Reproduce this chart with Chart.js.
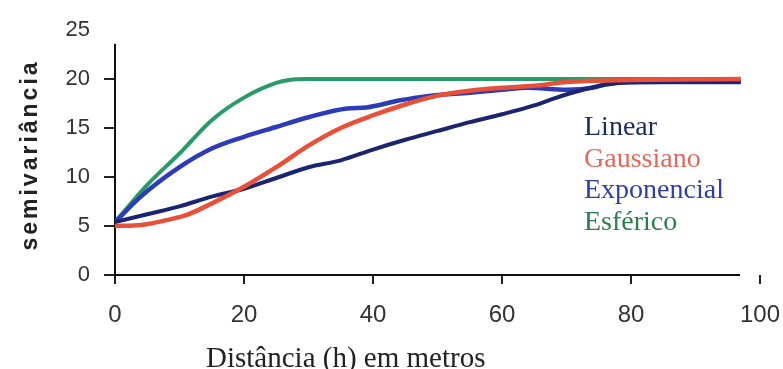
<!DOCTYPE html>
<html>
<head>
<meta charset="utf-8">
<script src="https://cdn.jsdelivr.net/npm/chart.js@4/dist/chart.umd.min.js"></script>
<style>
  html, body { margin: 0; padding: 0; background: #fff; }
  #wrap { width: 783px; height: 369px; }
</style>
</head>
<body>
<div id="wrap"><canvas id="c" width="783" height="369"></canvas></div>
<script>
// ---- data ----
const seriesNames = ["Linear", "Gaussiano", "Exponencial", "Esférico"];
const xTickValues = [0, 20, 40, 60, 80, 100];
const yTickValues = [0, 5, 10, 15, 20, 25];

const linearX = [0, 5, 10, 15, 20, 25, 30, 35, 40, 45, 50, 55, 60, 65, 68, 72, 76, 80, 90, 97];
const linearY = [5.4, 6.2, 7.0, 8.0, 8.8, 9.9, 11.0, 11.7, 12.8, 13.8, 14.7, 15.6, 16.4, 17.3, 18.0, 18.8, 19.4, 19.7, 19.7, 19.7];

const gaussX = [0, 4, 8, 11, 15, 20, 25, 30, 35, 40, 45, 50, 55, 60, 65, 70, 80, 97];
const gaussY = [5.0, 5.1, 5.6, 6.1, 7.3, 9.0, 11.0, 13.2, 15.0, 16.3, 17.4, 18.3, 18.8, 19.1, 19.3, 19.7, 19.9, 20.0];

const expoX = [0, 4, 10, 15, 20, 25, 30, 36, 39, 44, 49, 55, 60, 64, 70, 74, 77, 85, 97];
const expoY = [5.4, 8.0, 11.0, 12.9, 14.1, 15.1, 16.1, 17.0, 17.1, 17.8, 18.3, 18.6, 18.9, 19.1, 18.9, 19.1, 19.6, 19.7, 19.7];

const sphX = [0, 5, 10, 15, 20, 25, 27, 30, 40, 60, 80, 97];
const sphY = [5.4, 9.2, 12.4, 15.8, 18.1, 19.6, 19.9, 20.0, 20.0, 20.0, 20.0, 20.0];

const xTitle = "Distância (h) em metros";
const yTitle = "semivariância";

// ---- styling ----
const lineColors = ["#1b2470", "#e8503a", "#2c3cb8", "#2a9a68"];
const textColors = ["#1c2a5e", "#e06a5c", "#2e3fa6", "#2f7d4e"];

function pts(xs, ys) { return xs.map((x, i) => ({ x: x, y: ys[i] })); }

const datasets = [
  { label: seriesNames[0], data: pts(linearX, linearY), borderColor: lineColors[0], borderWidth: 4, order: 2 },
  { label: seriesNames[1], data: pts(gaussX, gaussY), borderColor: lineColors[1], borderWidth: 4.5, order: 1 },
  { label: seriesNames[2], data: pts(expoX, expoY), borderColor: lineColors[2], borderWidth: 4.5, order: 3 },
  { label: seriesNames[3], data: pts(sphX, sphY), borderColor: lineColors[3], borderWidth: 4, order: 4 }
].map(d => Object.assign(d, { pointRadius: 0, fill: false, cubicInterpolationMode: 'monotone' }));

const decor = {
  id: 'decor',
  beforeDatasetsDraw(chart) {
    const ctx = chart.ctx, xs = chart.scales.x, ys = chart.scales.y;
    ctx.save();
    ctx.strokeStyle = '#111';
    ctx.lineWidth = 2;
    ctx.beginPath();
    ctx.moveTo(xs.getPixelForValue(0), ys.getPixelForValue(23.6));
    ctx.lineTo(xs.getPixelForValue(0), ys.getPixelForValue(0));
    ctx.lineTo(xs.getPixelForValue(96.9), ys.getPixelForValue(0));
    ctx.stroke();
    ctx.restore();
  },
  afterDraw(chart) {
    const ctx = chart.ctx;
    ctx.save();
    // legend
    ctx.font = '28px "Liberation Serif", "Times New Roman", serif';
    ctx.textBaseline = 'alphabetic';
    ctx.textAlign = 'left';
    chart.data.datasets.forEach((d, i) => {
      ctx.fillStyle = textColors[i];
      ctx.fillText(d.label, 584, 135 + i * 31.7);
    });
    // x title
    ctx.fillStyle = '#222';
    ctx.font = '29px "Liberation Serif", "Times New Roman", serif';
    ctx.fillText(xTitle, 206, 367);
    // y title
    ctx.translate(37, 157);
    ctx.rotate(-Math.PI / 2);
    ctx.font = 'bold 23px "Liberation Sans", Arial, sans-serif';
    try { ctx.letterSpacing = '3px'; } catch (e) {}
    ctx.textAlign = 'center';
    ctx.fillStyle = '#222';
    ctx.fillText(yTitle, 2, 0);
    ctx.restore();
  }
};

new Chart(document.getElementById('c'), {
  type: 'line',
  data: { datasets: datasets },
  options: {
    responsive: false,
    devicePixelRatio: 1,
    animation: false,
    events: [],
    layout: { padding: { top: 30, right: 23, left: 0, bottom: 0 } },
    plugins: { legend: { display: false }, tooltip: { enabled: false }, title: { display: false } },
    scales: {
      x: {
        type: 'linear', min: 0, max: 100,
        afterBuildTicks: s => { s.ticks = xTickValues.map(v => ({ value: v })); },
        afterFit: s => { s.height = 94; s.paddingLeft = 0; s.paddingRight = 0; },
        border: { display: false },
        grid: { drawOnChartArea: false, drawTicks: true, tickLength: 9, color: '#222', lineWidth: 2 },
        ticks: { color: '#333', padding: 17, maxRotation: 0, font: { family: '"Liberation Sans", Arial, sans-serif', size: 24 } }
      },
      y: {
        type: 'linear', min: 0, max: 25,
        afterBuildTicks: s => { s.ticks = yTickValues.map(v => ({ value: v })); },
        afterFit: s => { s.width = 115; s.paddingTop = 0; s.paddingBottom = 0; },
        border: { display: false },
        grid: { drawOnChartArea: false, drawTicks: true, tickLength: 11,
                color: c => (c.tick && c.tick.value === 25) ? 'rgba(0,0,0,0)' : '#222', lineWidth: 2 },
        ticks: { color: '#333', padding: 14, font: { family: '"Liberation Sans", Arial, sans-serif', size: 22 } }
      }
    }
  },
  plugins: [decor]
});
</script>
</body>
</html>
